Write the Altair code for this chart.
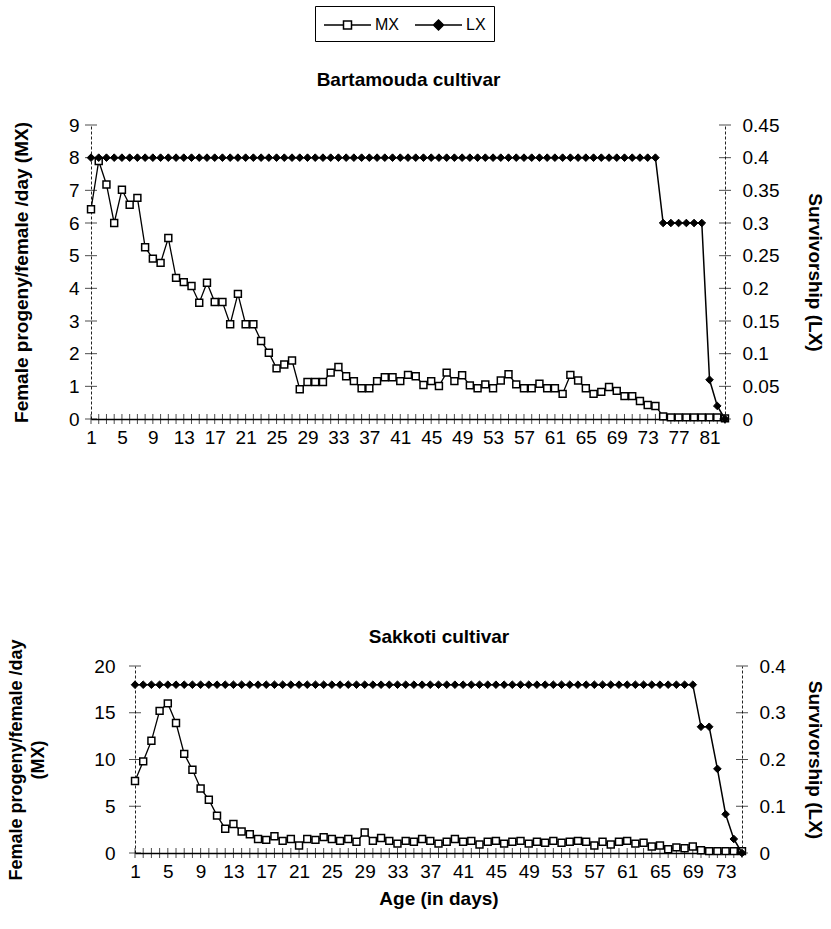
import altair as alt
import pandas as pd

FONT = "Liberation Sans"

# ---------------- Data: Bartamouda cultivar ----------------
bart_days = list(range(1, 84))
bart_mx = [6.42, 7.90, 7.18, 6.00, 7.02, 6.56, 6.77, 5.26, 4.91, 4.78,
           5.54, 4.32, 4.19, 4.07, 3.56, 4.17, 3.58, 3.58, 2.90, 3.83,
           2.90, 2.90, 2.39, 2.03, 1.55, 1.67, 1.79, 0.91, 1.13, 1.13,
           1.13, 1.42, 1.59, 1.31, 1.16, 0.94, 0.94, 1.16, 1.28, 1.28,
           1.16, 1.35, 1.31, 1.04, 1.16, 1.01, 1.42, 1.16, 1.34, 1.03,
           0.94, 1.06, 0.94, 1.18, 1.37, 1.06, 0.94, 0.94, 1.08, 0.94,
           0.94, 0.77, 1.35, 1.18, 0.94, 0.77, 0.83, 0.98, 0.86, 0.70,
           0.70, 0.55, 0.43, 0.40, 0.08, 0.05, 0.05, 0.05, 0.05, 0.05,
           0.05, 0.05, 0.02]
bart_lx = [0.4, 0.4, 0.4, 0.4, 0.4, 0.4, 0.4, 0.4, 0.4, 0.4,
           0.4, 0.4, 0.4, 0.4, 0.4, 0.4, 0.4, 0.4, 0.4, 0.4,
           0.4, 0.4, 0.4, 0.4, 0.4, 0.4, 0.4, 0.4, 0.4, 0.4,
           0.4, 0.4, 0.4, 0.4, 0.4, 0.4, 0.4, 0.4, 0.4, 0.4,
           0.4, 0.4, 0.4, 0.4, 0.4, 0.4, 0.4, 0.4, 0.4, 0.4,
           0.4, 0.4, 0.4, 0.4, 0.4, 0.4, 0.4, 0.4, 0.4, 0.4,
           0.4, 0.4, 0.4, 0.4, 0.4, 0.4, 0.4, 0.4, 0.4, 0.4,
           0.4, 0.4, 0.4, 0.4, 0.3, 0.3, 0.3, 0.3, 0.3, 0.3,
           0.06, 0.02, 0.0]
bart_x_labels = [1, 5, 9, 13, 17, 21, 25, 29, 33, 37, 41, 45, 49, 53, 57, 61, 65, 69, 73, 77, 81]
bart_mx_ticks = [0, 1, 2, 3, 4, 5, 6, 7, 8, 9]
bart_lx_ticks = [0, 0.05, 0.1, 0.15, 0.2, 0.25, 0.3, 0.35, 0.4, 0.45]

# ---------------- Data: Sakkoti cultivar ----------------
sak_days = list(range(1, 76))
sak_mx = [7.7, 9.8, 12.0, 15.2, 16.0, 13.9, 10.6, 8.9, 6.9, 5.7,
          4.0, 2.6, 3.1, 2.3, 2.0, 1.5, 1.4, 1.8, 1.3, 1.5,
          0.8, 1.5, 1.4, 1.7, 1.5, 1.3, 1.5, 1.2, 2.2, 1.3,
          1.6, 1.3, 1.0, 1.3, 1.2, 1.5, 1.3, 1.0, 1.2, 1.5,
          1.2, 1.3, 0.9, 1.2, 1.3, 1.0, 1.2, 1.3, 1.0, 1.2,
          1.1, 1.3, 1.1, 1.2, 1.3, 1.2, 0.8, 1.2, 0.9, 1.2,
          1.3, 1.0, 1.1, 0.7, 0.8, 0.4, 0.6, 0.5, 0.7, 0.3,
          0.2, 0.2, 0.2, 0.2, 0.2]
sak_lx = [0.36, 0.36, 0.36, 0.36, 0.36, 0.36, 0.36, 0.36, 0.36, 0.36,
          0.36, 0.36, 0.36, 0.36, 0.36, 0.36, 0.36, 0.36, 0.36, 0.36,
          0.36, 0.36, 0.36, 0.36, 0.36, 0.36, 0.36, 0.36, 0.36, 0.36,
          0.36, 0.36, 0.36, 0.36, 0.36, 0.36, 0.36, 0.36, 0.36, 0.36,
          0.36, 0.36, 0.36, 0.36, 0.36, 0.36, 0.36, 0.36, 0.36, 0.36,
          0.36, 0.36, 0.36, 0.36, 0.36, 0.36, 0.36, 0.36, 0.36, 0.36,
          0.36, 0.36, 0.36, 0.36, 0.36, 0.36, 0.36, 0.36, 0.36, 0.27,
          0.27, 0.18, 0.083, 0.03, 0.0]
sak_x_labels = [1, 5, 9, 13, 17, 21, 25, 29, 33, 37, 41, 45, 49, 53, 57, 61, 65, 69, 73]
sak_mx_ticks = [0, 5, 10, 15, 20]
sak_lx_ticks = [0, 0.1, 0.2, 0.3, 0.4]

series_names = ["MX", "LX"]

# legend symbols: line with open square / line with filled diamond
MX_PATH = "M-2.35,0H-0.4M0.4,0H2.35M-0.4,-0.4H0.4V0.4H-0.4Z"
LX_PATH = "M-2.35,0H2.35M0,-0.5L0.5,0L0,0.5L-0.5,0Z"


def panel(days, mx, lx, x_labels, mx_ticks, lx_ticks, o):
    df = pd.DataFrame({"day": days, "MX": mx, "LX": lx})
    day_df = pd.DataFrame({"day": days})
    mx_tick_df = pd.DataFrame({"v": mx_ticks})
    lx_tick_df = pd.DataFrame({"v": lx_ticks})

    xscale = alt.Scale(domain=[days[0], days[-1]], range=o["x_range"], nice=False, zero=False)
    xaxis_kw = dict(values=x_labels, ticks=False, grid=False, domainColor="black",
                    domainWidth=1.5, labelFont=FONT, labelFontSize=19, labelColor="black",
                    labelPadding=9, labelFlush=False, labelOverlap=False,
                    titleFont=FONT, titleFontSize=19, titleFontWeight="bold",
                    titleColor="black", titlePadding=8)
    if o["x_title"]:
        xaxis = alt.Axis(title=o["x_title"], **xaxis_kw)
    else:
        xaxis = alt.Axis(title=None, **xaxis_kw)
    # chart title carried by an otherwise empty top axis
    xaxis_top = alt.Axis(orient="top", labels=False, ticks=False, domain=False, grid=False,
                         title=o["title"], titleFont=FONT, titleFontSize=19, titleFontWeight="bold",
                         titleColor="black", titlePadding=o["title_pad"])
    x_enc = alt.X("day:Q", scale=xscale, axis=xaxis)
    x_enc_top = alt.X("day:Q", scale=xscale, axis=xaxis_top)

    ymx_scale = alt.Scale(domain=[0, mx_ticks[-1]], nice=False, zero=True)
    ymx_axis = alt.Axis(orient="left", values=mx_ticks, ticks=False, grid=False,
                        domainColor="#222222", domainDash=[3, 2], domainWidth=1,
                        labelFont=FONT, labelFontSize=19, labelColor="black",
                        labelPadding=o["mx_label_pad"], labelFlush=False, labelOverlap=False,
                        title=o["mx_title"], titleFont=FONT, titleFontSize=o["mx_title_size"],
                        titleFontWeight="bold", titleColor="black",
                        titlePadding=o["mx_title_pad"], titleLineHeight=22,
                        offset=o["mx_offset"])
    ylx_scale = alt.Scale(domain=[0, lx_ticks[-1]], nice=False, zero=True)
    ylx_axis = alt.Axis(orient="right", values=lx_ticks, format=".2~f", ticks=False, grid=False,
                        domainColor="#222222", domainDash=[3, 2], domainWidth=1,
                        labelFont=FONT, labelFontSize=19, labelColor="black",
                        labelPadding=17, labelFlush=False, labelOverlap=False,
                        title="Survivorship (LX)", titleFont=FONT, titleFontSize=19,
                        titleFontWeight="bold", titleColor="black",
                        titlePadding=o["lx_title_pad"])

    ymx = alt.Y("MX:Q", scale=ymx_scale, axis=ymx_axis)
    ylx = alt.Y("LX:Q", scale=ylx_scale, axis=ylx_axis)

    x_ticks = alt.Chart(day_df).mark_tick(orient="vertical", size=10, thickness=1, color="black").encode(
        x=x_enc, y=alt.YDatum(0, scale=ymx_scale, axis=ymx_axis))
    mx_yticks = alt.Chart(mx_tick_df).mark_tick(orient="horizontal", size=12, thickness=1, color="black").encode(
        x=alt.XDatum(days[0], scale=xscale, axis=xaxis),
        y=alt.Y("v:Q", scale=ymx_scale, axis=ymx_axis))
    mx_line = alt.Chart(df).mark_line(color="black", strokeWidth=1.3).encode(x=x_enc, y=ymx)
    mx_pts = alt.Chart(df).mark_point(shape="square", size=48, filled=True, fill="white",
                                      stroke="black", strokeWidth=1.5, opacity=1).encode(x=x_enc, y=ymx)
    mx_layers = [x_ticks, mx_yticks, mx_line, mx_pts]

    if o["legend"]:
        leg = alt.Legend(orient="none", legendX=224, legendY=-119, direction="horizontal",
                         title=None, strokeColor="black", fillColor="white", padding=8,
                         symbolSize=400, symbolStrokeWidth=1.5, symbolStrokeColor="black",
                         symbolOpacity=1, symbolOffset=13.5, labelOffset=16.5,
                         labelFont=FONT, labelFontSize=16, labelColor="black",
                         columnPadding=13)
        leg_df = pd.DataFrame({"series": series_names})
        legend_layer = alt.Chart(leg_df).mark_point(opacity=0, stroke="black", strokeWidth=1.5).encode(
            shape=alt.Shape("series:N", scale=alt.Scale(domain=series_names, range=[MX_PATH, LX_PATH]), legend=leg),
            fill=alt.Fill("series:N", scale=alt.Scale(domain=series_names, range=["white", "black"]), legend=leg),
            stroke=alt.Stroke("series:N", scale=alt.Scale(domain=series_names, range=["black", "black"]), legend=leg),
        )
        mx_layers.append(legend_layer)

    lx_yticks = alt.Chart(lx_tick_df).mark_tick(orient="horizontal", size=12, thickness=1, color="black").encode(
        x=alt.XDatum(days[-1], scale=xscale, axis=xaxis_top),
        y=alt.Y("v:Q", scale=ylx_scale, axis=ylx_axis))
    lx_line = alt.Chart(df).mark_line(color="black", strokeWidth=1.5).encode(x=x_enc_top, y=ylx)
    lx_pts = alt.Chart(df).mark_point(shape="diamond", size=58, filled=True, color="black",
                                      stroke="black", strokeWidth=1, opacity=1).encode(x=x_enc_top, y=ylx)

    mx_group = alt.layer(*mx_layers)
    lx_group = alt.layer(lx_yticks, lx_line, lx_pts)

    return alt.layer(mx_group, lx_group).resolve_scale(y="independent", x="independent").properties(
        width=o["width"], height=o["height"])


top = panel(bart_days, bart_mx, bart_lx, bart_x_labels, bart_mx_ticks, bart_lx_ticks, dict(
    x_range=[0, 634], width=634, height=294, x_title=None,
    mx_title="Female progeny/female /day (MX)", mx_title_size=19, mx_title_pad=37,
    mx_label_pad=12, mx_offset=0, lx_title_pad=26, legend=True,
    title="Bartamouda cultivar", title_pad=36))

bottom = panel(sak_days, sak_mx, sak_lx, sak_x_labels, sak_mx_ticks, sak_lx_ticks, dict(
    x_range=[44, 651], width=651, height=187, x_title="Age (in days)",
    mx_title=["Female progeny/female /day", "(MX)"], mx_title_size=18, mx_title_pad=46,
    mx_label_pad=20, mx_offset=-44, lx_title_pad=19, legend=False,
    title="Sakkoti cultivar", title_pad=20))

chart = alt.vconcat(top, bottom, spacing=247, bounds="flush").properties(
    padding={"left": 7, "top": 5, "right": 7, "bottom": 5},
    background="white",
).configure_view(stroke=None)

chart.save("out.html", embed_options={"renderer": "svg", "actions": False})
